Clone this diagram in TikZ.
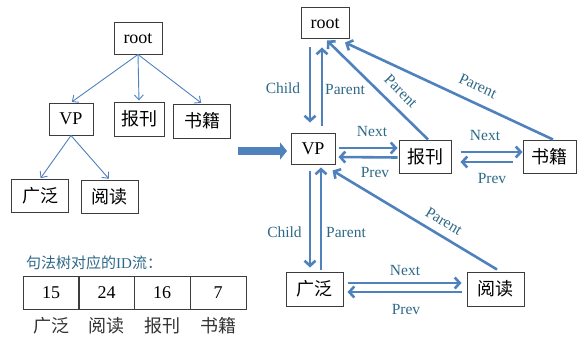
\documentclass[tikz,border=0pt]{standalone}
\usepackage{fontspec}
\setmainfont{Liberation Serif}
\newfontfamily\cjk{Noto Sans CJK SC}
\usetikzlibrary{arrows.meta,calc}
\definecolor{arrowblue}{RGB}{79,129,189}
\definecolor{lblcol}{RGB}{45,105,135}
\definecolor{boxgray}{RGB}{60,60,60}
\begin{document}
\begin{tikzpicture}[x=1pt,y=-1pt,
  box/.style={draw=boxgray,line width=1pt,inner sep=0pt,font=\fontsize{18}{20}\selectfont},
  cell/.style={draw=boxgray,line width=1pt,inner sep=0pt,minimum width=56pt,minimum height=33pt,font=\fontsize{18}{20}\selectfont},
  thinarrow/.style={draw=arrowblue,line width=0.9pt,-{Straight Barb[length=5pt,width=9pt]}},
  thickarrow/.style={draw=arrowblue,line width=2.6pt,-{Straight Barb[length=5pt,width=11pt]}},
  lbl/.style={text=lblcol,inner sep=0pt,font=\fontsize{15.5}{17}\selectfont},
  below/.style={inner sep=0pt,text=black!80,font=\fontsize{18}{20}\selectfont\cjk}
]
\useasboundingbox (0,0) rectangle (577,337);

% ---- left tree ----
\node[box,minimum width=48pt,minimum height=31pt] (rootL) at (138,38.5) {root};
\node[box,minimum width=44pt,minimum height=32pt] (VPL) at (71,119) {VP};
\node[box,minimum width=50pt,minimum height=34pt] (bkL) at (139,119) {\cjk 报刊};
\node[box,minimum width=57pt,minimum height=34pt] (sjL) at (202,121) {\cjk 书籍};
\node[box,minimum width=57pt,minimum height=33pt] (gfL) at (40,196) {\cjk 广泛};
\node[box,minimum width=57pt,minimum height=33pt] (ydL) at (109.5,196.5) {\cjk 阅读};
\draw[thinarrow,shorten >=1pt] (rootL.south) -- (VPL.north);
\draw[thinarrow,shorten >=1pt] (rootL.south) -- (bkL.north);
\draw[thinarrow,shorten >=1pt] (rootL.south) -- (sjL.north);
\draw[thinarrow,shorten >=1pt] (VPL.south) -- (gfL.north);
\draw[thinarrow,shorten >=1pt] (VPL.south) -- (ydL.north);

% ---- ID stream ----
\node[anchor=west,inner sep=0pt,text=lblcol,font=\fontsize{15}{17}\selectfont] (title) at (26,263) {{\cjk 句法树对应的}ID{\cjk 流：}};
\node[cell] (c1) at (51,292.5) {15};
\node[cell] (c2) at (106.5,292.5) {24};
\node[cell] (c3) at (162,292.5) {16};
\node[cell] (c4) at (218,292.5) {7};
\node[below] (l1) at (51,326) {广泛};
\node[below] (l2) at (106.5,326) {阅读};
\node[below] (l3) at (162,326) {报刊};
\node[below] (l4) at (218,326) {书籍};

% ---- big arrow ----
\coordinate (bs) at (238,151);
\coordinate (be) at (287,151);
\draw[arrowblue,line width=8pt,-{Triangle[length=7pt,width=17pt]}] (bs) -- (be);

% ---- right structure ----
\node[box,minimum width=48pt,minimum height=31pt] (rootR) at (325,23.5) {root};
\node[box,minimum width=44pt,minimum height=31pt] (VPR) at (313,148.5) {VP};
\node[box,minimum width=52pt,minimum height=33pt] (bkR) at (425,156.5) {\cjk 报刊};
\node[box,minimum width=53pt,minimum height=33pt] (sjR) at (549.5,156.5) {\cjk 书籍};
\node[box,minimum width=57pt,minimum height=34pt] (gfR) at (314.5,289) {\cjk 广泛};
\node[box,minimum width=57pt,minimum height=34pt] (ydR) at (495.5,289) {\cjk 阅读};

% root <-> VP
\draw[thickarrow] ($(rootR.south)+(-15,8)$) -- ($(VPR.north)+(-3,-10)$);
\draw[thickarrow] ($(VPR.north)+(9,-7)$) -- ($(rootR.south)+(-3,8)$);
\node[lbl] (lc1) at (283,88) {Child};
\node[lbl] (lp1) at (345,90) {Parent};
% bk -> root, sj -> root
\draw[thickarrow] ($(bkR.north)+(3,0)$) -- ($(rootR.south)+(2,1)$);
\node[lbl,rotate=-45] (lp2) at (401,91) {Parent};
\draw[thickarrow] ($(sjR.north)+(3.5,0)$) -- ($(rootR.south)+(20,3)$);
\node[lbl,rotate=-25] (lp3) at (478,86) {Parent};
% VP <-> bk
\draw[thickarrow] ($(VPR.east)+(3,-0.5)$) -- ($(bkR.west)+(-1,-8.5)$);
\draw[thickarrow] ($(bkR.west)+(-1,1)$) -- ($(VPR.east)+(3,8.5)$);
\node[lbl] (ln1) at (372,131) {Next};
\node[lbl] (lpv1) at (375,172) {Prev};
% bk <-> sj
\draw[thickarrow] ($(bkR.east)+(9,-4.5)$) -- ($(sjR.west)+(0,-4.5)$);
\draw[thickarrow] ($(sjR.west)+(-10,5.5)$) -- ($(bkR.east)+(9,5.5)$);
\node[lbl] (ln2) at (485,135) {Next};
\node[lbl] (lpv2) at (492,178) {Prev};
% VP <-> gf
\draw[thickarrow] ($(VPR.south)+(-3,6)$) -- ($(gfR.north)+(-4.5,-4)$);
\draw[thickarrow] ($(gfR.north)+(6.5,-2)$) -- ($(VPR.south)+(8,3)$);
\node[lbl] (lc2) at (284.5,232) {Child};
\node[lbl] (lp4) at (346,232) {Parent};
% yd -> VP
\draw[thickarrow] ($(ydR.north)+(1.5,-2)$) -- ($(VPR.south east)+(-3,6)$);
\node[lbl,rotate=-31] (lp5) at (444,221) {Parent};
% gf <-> yd
\draw[thickarrow] ($(gfR.east)+(4,-6)$) -- ($(ydR.west)+(-5,-6)$);
\draw[thickarrow] ($(ydR.west)+(-5,3)$) -- ($(gfR.east)+(4,3)$);
\node[lbl] (ln3) at (405,270) {Next};
\node[lbl] (lpv3) at (406,309) {Prev};
\end{tikzpicture}
\end{document}
